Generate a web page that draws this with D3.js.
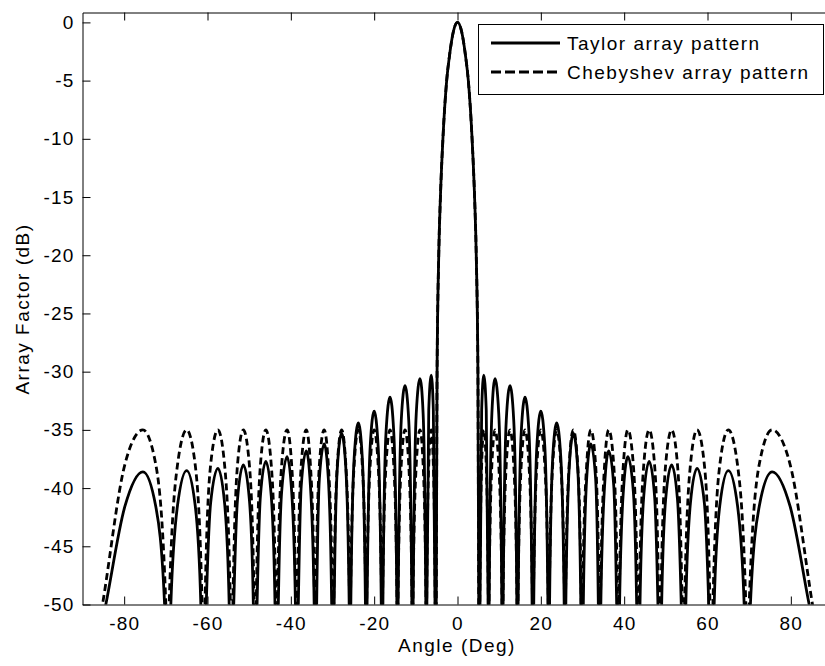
<!DOCTYPE html>
<html>
<head>
<meta charset="utf-8">
<script src="https://cdn.jsdelivr.net/npm/d3@7"></script>
<style>
  html, body { margin: 0; padding: 0; background: #fff; }
  svg { display: block; font-family: "Liberation Sans", Arial, Helvetica, sans-serif; }
  text { font-size: 19px; fill: #000; letter-spacing: 1.5px; }
</style>
</head>
<body>
<div id="chart"></div>
<script>
// values (positive side, the pattern is symmetric about 0 deg)
const mainLobeDeg = [0, 1.0, 1.9, 2.6, 3.5, 4.1, 4.5, 4.9, 5.1];
const mainLobeDb = [0, -0.8, -2.8, -5, -10, -15, -20, -30, -50];

// nulls dip under the -50 dB floor and get clipped
const nullDeg = [5.3, 7.5, 10.8, 14.4, 18.1, 21.9, 25.8, 29.9, 34.1, 38.6, 43.4, 48.6, 54.3, 61.0, 69.6, 90];
const peakDeg = [6.3, 9.0, 12.6, 16.2, 20.0, 23.8, 27.8, 32.0, 36.3, 40.9, 46.0, 51.4, 57.5, 65.0, 75.5];
// angles where each lobe sits about 3 dB under its peak
const shoulderL = [5.8, 8.25, 11.7, 15.3, 19.05, 22.85, 26.8, 31.0, 35.3, 39.8, 44.7, 49.95, 55.9, 62.95, 72.4];
const shoulderR = [6.9, 9.9, 13.5, 17.15, 20.95, 24.8, 28.85, 33.15, 37.5, 42.2, 47.3, 52.8, 59.25, 67.2, 79.85];
const shoulderDrop = 3;

const taylorPeakDb = [-30.3, -30.6, -31.2, -32.2, -33.4, -34.4, -35.3, -36.2, -36.8, -37.3, -37.7, -38.0, -38.3, -38.5, -38.6];
const taylorFootL = [5.4, 7.6, 10.95, 14.55, 18.3, 22.1, 26.0, 30.2, 34.4, 38.9, 43.8, 49.0, 54.8, 61.6, 70.3];
const taylorFootR = [7.35, 10.65, 14.25, 17.9, 21.7, 25.6, 29.6, 33.8, 38.2, 43.0, 48.1, 53.7, 60.3, 68.8, 84.4];

const chebPeakDb = [-35, -35, -35, -35, -35, -35, -35, -35, -35, -35, -35, -35, -35, -35, -35];
const chebFootL = [5.35, 7.55, 10.9, 14.5, 18.2, 22.0, 25.9, 30.0, 34.3, 38.8, 43.6, 48.8, 54.5, 61.3, 70.0];
const chebFootR = [7.4, 10.7, 14.3, 18.0, 21.8, 25.7, 29.7, 34.0, 38.4, 43.2, 48.3, 53.9, 60.6, 69.2, 85.2];

const xTicks = [-80, -60, -40, -20, 0, 20, 40, 60, 80];
const yTicks = [0, -5, -10, -15, -20, -25, -30, -35, -40, -45, -50];
const seriesNames = ["Taylor array pattern", "Chebyshev array pattern"];

const nullDb = -60; // below the axis floor

const width = 825, height = 666;
const svg = d3.select("#chart").append("svg")
    .attr("width", width)
    .attr("height", height);

const x = d3.scaleLinear().domain([-90, 90]).range([82.5, 832.5]);
const y = d3.scaleLinear().domain([-50, 0.85]).range([604.5, 12.5]);

function halfPattern(peakDb, footL, footR) {
    const pts = mainLobeDeg.map((d, i) => [d, mainLobeDb[i]]);
    peakDeg.forEach((p, i) => {
        pts.push(
            [nullDeg[i], nullDb],
            [footL[i], -50],
            [shoulderL[i], peakDb[i] - shoulderDrop],
            [p, peakDb[i]],
            [shoulderR[i], peakDb[i] - shoulderDrop],
            [footR[i], -50]
        );
    });
    pts.push([nullDeg[nullDeg.length - 1], nullDb]);
    return pts;
}

function fullPattern(peakDb, footL, footR) {
    const half = halfPattern(peakDb, footL, footR);
    const left = half.slice(1).map(([a, v]) => [-a, v]).reverse();
    return left.concat(half);
}

const taylor = fullPattern(taylorPeakDb, taylorFootL, taylorFootR);
const cheb = fullPattern(chebPeakDb, chebFootL, chebFootR);

svg.append("clipPath").attr("id", "plot-clip")
    .append("rect")
    .attr("x", x(-90)).attr("y", y(0.85))
    .attr("width", x(90) - x(-90)).attr("height", y(-50) - y(0.85));

const line = d3.line()
    .x(d => x(d[0]))
    .y(d => y(d[1]))
    .curve(d3.curveMonotoneX);

const plot = svg.append("g").attr("clip-path", "url(#plot-clip)");

plot.append("path")
    .attr("d", line(taylor))
    .attr("fill", "none")
    .attr("stroke", "#000")
    .attr("stroke-width", 2.8);

plot.append("path")
    .attr("d", line(cheb))
    .attr("fill", "none")
    .attr("stroke", "#000")
    .attr("stroke-width", 2.8)
    .attr("stroke-dasharray", "7,4");

// axes
const fmt = d => String(d);

svg.append("g")
    .attr("transform", `translate(0,${y(-50)})`)
    .call(d3.axisBottom(x).tickValues(xTicks).tickFormat(fmt)
        .tickSizeInner(-8).tickSizeOuter(0).tickPadding(12));

svg.append("g")
    .attr("transform", `translate(0,${y(0.85)})`)
    .call(d3.axisTop(x).tickValues(xTicks).tickFormat("")
        .tickSizeInner(-8).tickSizeOuter(0));

svg.append("g")
    .attr("transform", `translate(${x(-90)},0)`)
    .call(d3.axisLeft(y).tickValues(yTicks).tickFormat(fmt)
        .tickSizeInner(-8).tickSizeOuter(0).tickPadding(8));

svg.selectAll(".tick line").attr("stroke", "#000");
svg.selectAll(".domain").attr("stroke", "#000");
svg.selectAll(".tick text")
    .attr("fill", "#000")
    .style("font-size", "19px")
    .style("letter-spacing", "1.2px")
    .style("font-family", "\"Liberation Sans\", Arial, sans-serif");

// axis labels
svg.append("text")
    .attr("x", 457)
    .attr("y", 652)
    .attr("text-anchor", "middle")
    .text("Angle (Deg)");

svg.append("text")
    .attr("transform", "translate(29,309) rotate(-90)")
    .attr("text-anchor", "middle")
    .text("Array Factor (dB)");

// legend
const legend = svg.append("g");
legend.append("rect")
    .attr("x", 478.5).attr("y", 24.5)
    .attr("width", 345).attr("height", 70)
    .attr("fill", "#fff").attr("stroke", "#000");

const rows = [{ y: 43, dash: null }, { y: 72, dash: "10,4" }];
rows.forEach((r, i) => {
    legend.append("line")
        .attr("x1", 491).attr("x2", 560)
        .attr("y1", r.y).attr("y2", r.y)
        .attr("stroke", "#000")
        .attr("stroke-width", 2.8)
        .attr("stroke-dasharray", r.dash);
    legend.append("text")
        .attr("x", 567)
        .attr("y", r.y + 7)
        .text(seriesNames[i]);
});
</script>
</body>
</html>
